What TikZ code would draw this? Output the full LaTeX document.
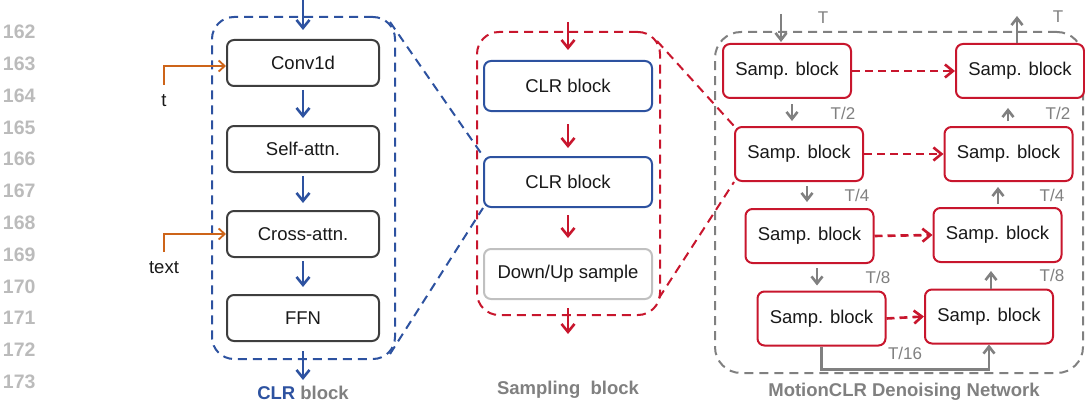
\documentclass[tikz,border=0pt]{standalone}
\usepackage{fontspec}
\setmainfont{Liberation Sans}
\usetikzlibrary{arrows.meta,calc}
\definecolor{cblue}{RGB}{45,82,160}
\definecolor{cred}{RGB}{200,22,45}
\definecolor{corange}{RGB}{205,100,25}
\definecolor{cgray}{RGB}{128,128,128}
\definecolor{cdark}{RGB}{62,62,62}
\definecolor{clight}{RGB}{192,192,192}
\definecolor{cnum}{RGB}{187,187,187}
\definecolor{txt}{RGB}{25,25,25}
\begin{document}
\begin{tikzpicture}[x=1pt,y=-1pt,
  boxbase/.style={draw, fill=white, rounded corners=7pt, line width=2pt, inner sep=0pt, text=txt, font=\fontsize{18.5}{22}\selectfont},
  clrbox/.style={boxbase, draw=cdark, minimum width=152pt, minimum height=46pt},
  sampbox/.style={boxbase, minimum width=168pt, minimum height=50pt},
  sbox/.style={boxbase, draw=cred, minimum width=128pt, minimum height=54pt},
  dashline/.style={line width=2pt, dash pattern=on 9pt off 6pt},
  container/.style={draw, dashline, rounded corners=22pt, inner sep=0pt},
  tip/.style={-{Straight Barb[length=8pt,width=13pt]}},
  barrow/.style={draw=cblue, line width=2.6pt, tip},
  rarrow/.style={draw=cred, line width=2.6pt, tip},
  garrow/.style={draw=cgray, line width=2.6pt, -{Straight Barb[length=7pt,width=11pt]}},
  oarrow/.style={draw=corange, line width=1.8pt, -{Straight Barb[length=6pt,width=11pt]}},
  rdarrow/.style={draw=cred, line width=2.6pt, dash pattern=on 8pt off 5pt, -{Straight Barb[length=8pt,width=13pt]}},
  num/.style={anchor=east, text=cnum, font=\fontsize{19.5}{22}\selectfont\bfseries},
  glabel/.style={text=cgray, font=\fontsize{17}{20}\selectfont},
  lbl/.style={text=txt, font=\fontsize{18.5}{22}\selectfont},
  title/.style={text=cgray, font=\fontsize{18.5}{22}\selectfont\bfseries}
]
\useasboundingbox (0,0) rectangle (1085,404);

% line numbers
\foreach \n [count=\k from 0] in {162,...,173}
  \node[num] (ln\n) at (39,{32+31.8*\k}) {\n};

% containers
\node[container, draw=cblue, minimum width=183pt, minimum height=342pt] (clr) at (303.5,188) {};
\node[container, draw=cred, minimum width=183pt, minimum height=283pt] (samp) at (568.5,173.5) {};
\node[container, draw=cgray, minimum width=368pt, minimum height=341pt, rounded corners=26pt] (den) at (899,202.5) {};

% CLR block internals
\node[clrbox] (conv) at (303,63) {Conv1d};
\node[clrbox] (self) at (303,149) {Self-attn.};
\node[clrbox] (cross) at (303,234) {Cross-attn.};
\node[clrbox] (ffn) at (303,318) {FFN};

\coordinate (clrin) at (303,0);
\coordinate (clrout) at (303,380);
\draw[barrow, shorten >=9pt] (clrin) -- (conv.north);
\draw[barrow, shorten <=3pt, shorten >=7pt] (conv.south) -- (self.north);
\draw[barrow, shorten <=3pt, shorten >=7pt] (self.south) -- (cross.north);
\draw[barrow, shorten <=3pt, shorten >=7pt] (cross.south) -- (ffn.north);
\draw[barrow, shorten <=9pt] (ffn.south) -- (clrout);

\node[lbl] (tl) at (164,101) {t};
\node[lbl] (textl) at (164,268) {text};
\coordinate (tstart) at (164,85);
\coordinate (textstart) at (164,252);
\draw[oarrow] (tstart) |- ($(conv.west)+(0,3)$);
\draw[oarrow] (textstart) |- (cross.west);

\node[title] (clrtitle) at (303,393) {{\color{cblue}CLR} block};

% sampling block
\node[sampbox, draw=cblue] (c1) at (568,86) {CLR block};
\node[sampbox, draw=cblue] (c2) at (568,182) {CLR block};
\node[sampbox, draw=clight] (ds) at (568,274) {Down/Up sample};
\draw[draw=cblue, dashline] ($(clr.north east)+(-6,6)$) -- (c2.north west);
\draw[draw=cblue, dashline] ($(clr.south east)+(-6,-6)$) -- (c2.south west);

\coordinate (sampin) at (568,22);
\coordinate (sampout) at (568,334);
\draw[rarrow, shorten >=10pt] (sampin) -- (c1.north);
\draw[rarrow, shorten <=12pt, shorten >=8pt] (c1.south) -- (c2.north);
\draw[rarrow, shorten <=7pt, shorten >=10pt] (c2.south) -- (ds.north);
\draw[rarrow, shorten <=8pt] (ds.south) -- (sampout);

\node[title] (samptitle) at (568,390) {Sampling~~block};

% Denoising network
\node[sbox] (r1l) at (787,71) {Samp. block};
\node[sbox] (r1r) at (1020,71) {Samp. block};
\node[sbox] (r2l) at (799,154) {Samp. block};
\node[sbox] (r2r) at (1008.5,154) {Samp. block};
\node[sbox] (r3l) at (809.5,236) {Samp. block};
\node[sbox] (r3r) at (997.5,235) {Samp. block};
\node[sbox] (r4l) at (821.5,318.5) {Samp. block};
\node[sbox] (r4r) at (989,316.5) {Samp. block};

\draw[draw=cred, dashline] ($(samp.north east)+(-4,10)$) -- (r2l.north west);
\draw[draw=cred, dashline] ($(samp.south east)+(-2,-18)$) -- (r2l.south west);

\draw[rdarrow] (r1l.east) -- (r1r.west);
\draw[rdarrow] (r2l.east) -- (r2r.west);
\draw[rdarrow] (r3l.east) -- (r3r.west);
\draw[rdarrow] (r4l.east) -- (r4r.west);

\coordinate (denin) at (781,14);
\coordinate (denout) at (1017,16);
\draw[garrow, shorten >=1pt] (denin) -- ($(r1l.north)+(-6,0)$);
\draw[garrow] ($(r1r.north)+(-3,0)$) -- (denout);
\draw[garrow] ($(r1l.south)+(5,5)$) -- ($(r2l.north)+(-7,-5)$);
\draw[garrow] ($(r2l.south)+(8,4)$) -- ($(r3l.north)+(-2.5,-6)$);
\draw[garrow] ($(r3l.south)+(7.5,4)$) -- ($(r4l.north)+(-4.5,-5)$);
\draw[garrow] (r4l.south) -- ++(0,23) -| (r4r.south);
\draw[garrow] ($(r4r.north)+(2,0)$) -- ($(r3r.south)+(-6.5,8)$);
\draw[garrow] ($(r3r.north)+(0.5,-3)$) -- ($(r2r.south)+(-10.5,5)$);
\draw[garrow] ($(r2r.north)+(-0.5,-5)$) -- ($(r1r.south)+(-12,9)$);

\node[glabel] (lT1) at (823,18) {T};
\node[glabel] (lT2) at (1058,17) {T};
\node[glabel] (l21) at (843,113) {T/2};
\node[glabel] (l22) at (1058,113) {T/2};
\node[glabel] (l41) at (857,195) {T/4};
\node[glabel] (l42) at (1052,195) {T/4};
\node[glabel] (l81) at (878,277) {T/8};
\node[glabel] (l82) at (1052,275) {T/8};
\node[glabel] (l16) at (905,353) {T/16};

\node[title] (dentitle) at (904,392) {MotionCLR Denoising Network};
\end{tikzpicture}
\end{document}
